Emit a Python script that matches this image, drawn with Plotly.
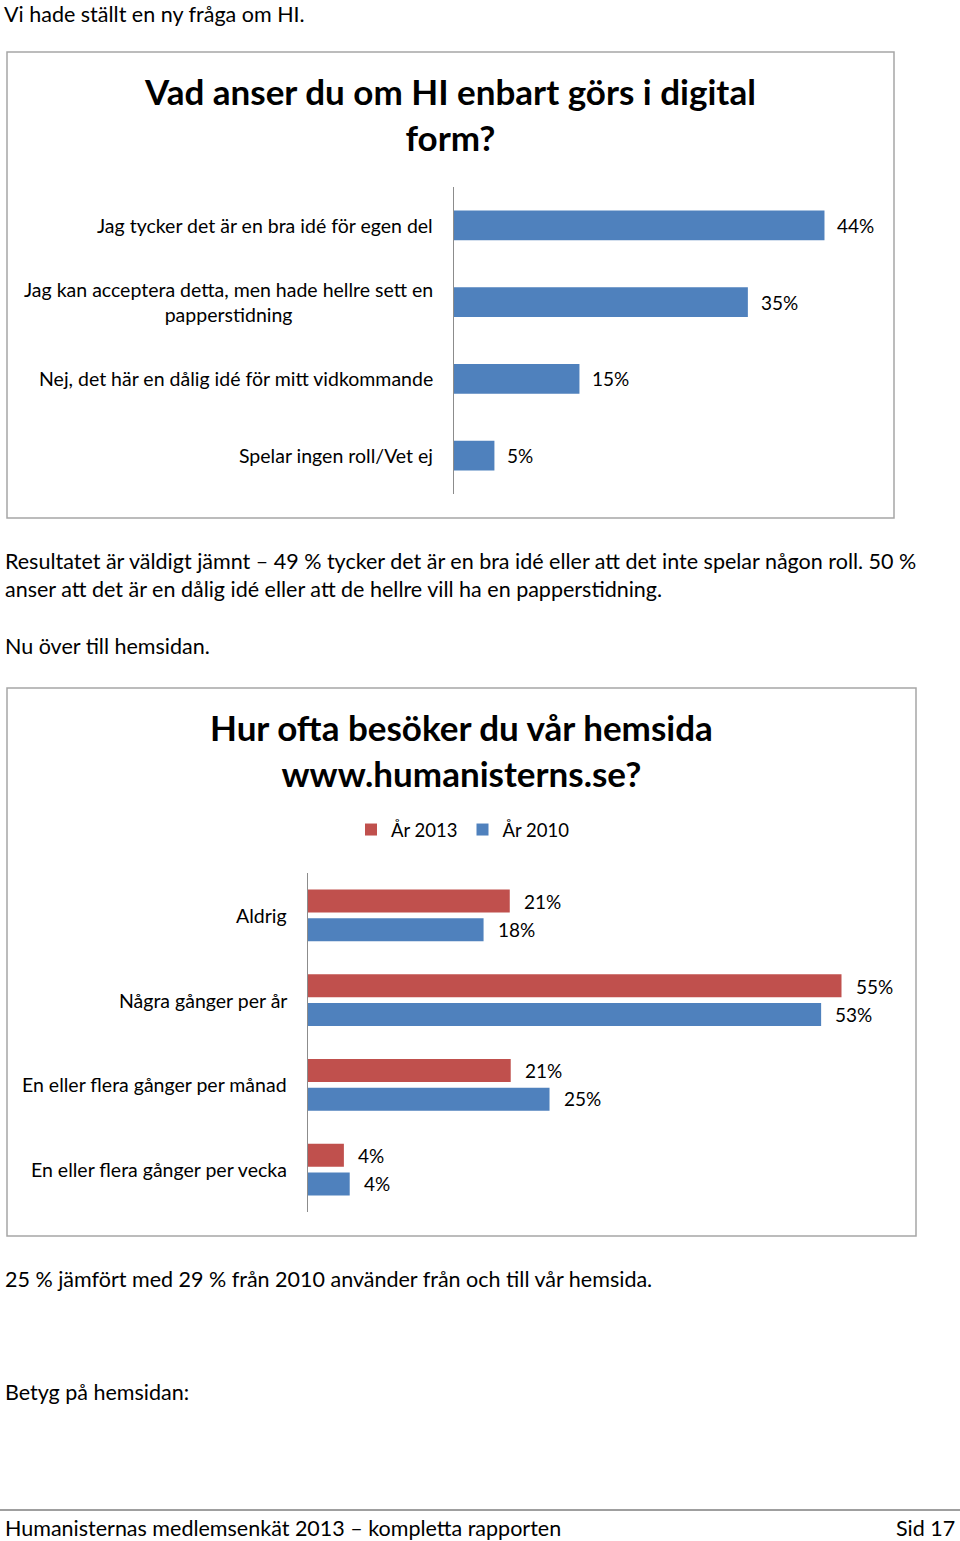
import plotly.graph_objects as go

W, H = 960, 1541
FONT = "Lato"

# ---------- data ----------
q1_categories = [
    "Jag tycker det är en bra idé för egen del",
    "Jag kan acceptera detta, men hade hellre sett en<br>papperstidning",
    "Nej, det här en dålig idé för mitt vidkommande",
    "Spelar ingen roll/Vet ej",
]
q1_values = [44.0, 34.9, 14.9, 4.8]
q1_labels = ["44%", "35%", "15%", "5%"]

q2_categories = [
    "Aldrig",
    "Några gånger per år",
    "En eller flera gånger per månad",
    "En eller flera gånger per vecka",
]
q2_values_2013 = [20.8, 55.0, 20.9, 3.7]
q2_values_2010 = [18.1, 52.9, 24.9, 4.3]
q2_labels_2013 = ["21%", "55%", "21%", "4%"]
q2_labels_2010 = ["18%", "53%", "25%", "4%"]
q2_series_names = ["År 2013", "År 2010"]

BLUE = "#4F81BD"
RED = "#C0504D"


def px_x(x):
    return x / W


def px_y(y):
    return 1 - y / H


fig = go.Figure()

fig.add_trace(go.Bar(
    x=q1_values, y=q1_categories, orientation="h",
    marker=dict(color=BLUE, line=dict(width=0)),
    width=0.39, showlegend=False, hoverinfo="skip",
    xaxis="x", yaxis="y",
))

fig.add_trace(go.Bar(
    x=q2_values_2013, y=q2_categories, orientation="h", name=q2_series_names[0],
    marker=dict(color=RED, line=dict(width=0)), hoverinfo="skip",
    xaxis="x2", yaxis="y2",
))
fig.add_trace(go.Bar(
    x=q2_values_2010, y=q2_categories, orientation="h", name=q2_series_names[1],
    marker=dict(color=BLUE, line=dict(width=0)), hoverinfo="skip",
    xaxis="x2", yaxis="y2",
))

annotations = []
cat_font = dict(family=FONT, size=19.5, color="black")
val_font = dict(family=FONT, size=19, color="black")

# chart 1 category labels and value labels
for c, v, lab in zip(q1_categories, q1_values, q1_labels):
    annotations.append(dict(x=0, y=c, xref="x", yref="y", text=c, showarrow=False,
                            xanchor="right", yanchor="middle", align="center",
                            xshift=-19, font=cat_font))
    annotations.append(dict(x=v, y=c, xref="x", yref="y", text=lab, showarrow=False,
                            xanchor="left", yanchor="middle", xshift=11, font=val_font))

# chart 2 category labels and value labels
for c, v13, v10, l13, l10 in zip(q2_categories, q2_values_2013, q2_values_2010,
                                 q2_labels_2013, q2_labels_2010):
    annotations.append(dict(x=0, y=c, xref="x2", yref="y2", text=c, showarrow=False,
                            xanchor="right", yanchor="middle", xshift=-19, font=cat_font))
    annotations.append(dict(x=v13, y=c, xref="x2", yref="y2", text=l13, showarrow=False,
                            xanchor="left", yanchor="middle", xshift=12, yshift=14, font=val_font))
    annotations.append(dict(x=v10, y=c, xref="x2", yref="y2", text=l10, showarrow=False,
                            xanchor="left", yanchor="middle", xshift=12, yshift=-14, font=val_font))

# chart titles
title_font = dict(family=FONT, size=35, color="black")
annotations.append(dict(x=px_x(450), y=px_y(114), xref="paper", yref="paper",
                        text="<b>Vad anser du om HI enbart görs i digital<br>form?</b>",
                        showarrow=False, xanchor="center", yanchor="middle", align="center",
                        font=title_font))
annotations.append(dict(x=px_x(461), y=px_y(750), xref="paper", yref="paper",
                        text="<b>Hur ofta besöker du vår hemsida<br>www.humanisterns.se?</b>",
                        showarrow=False, xanchor="center", yanchor="middle", align="center",
                        font=title_font))

# body text of the page
body = dict(family=FONT, size=21.5, color="black")
# first line sits at the very top of the page
annotations.append(dict(x=px_x(3), y=1, xref="paper", yref="paper",
                        text="Vi hade ställt en ny fråga om HI.", showarrow=False,
                        xanchor="left", yanchor="top", borderpad=0, font=body))
page_lines = [
    (561, "Resultatet är väldigt jämnt – 49 % tycker det är en bra idé eller att det inte spelar någon roll. 50 %"),
    (589, "anser att det är en dålig idé eller att de hellre vill ha en papperstidning."),
    (646, "Nu över till hemsidan."),
    (1279, "25 % jämfört med 29 % från 2010 använder från och till vår hemsida."),
    (1392, "Betyg på hemsidan:"),
    (1528, "Humanisternas medlemsenkät 2013 – kompletta rapporten"),
]
for yy, t in page_lines:
    annotations.append(dict(x=px_x(3), y=px_y(yy), xref="paper", yref="paper", text=t,
                            showarrow=False, xanchor="left", yanchor="middle", font=body))
annotations.append(dict(x=px_x(957), y=px_y(1528), xref="paper", yref="paper", text="Sid 17",
                        showarrow=False, xanchor="right", yanchor="middle", font=body))

shapes = [
    dict(type="rect", xref="paper", yref="paper", x0=px_x(7), x1=px_x(894),
         y0=px_y(518), y1=px_y(52), line=dict(color="#A6A6A6", width=1.5)),
    dict(type="rect", xref="paper", yref="paper", x0=px_x(7), x1=px_x(916),
         y0=px_y(1236), y1=px_y(688), line=dict(color="#A6A6A6", width=1.5)),
    dict(type="line", xref="paper", yref="paper", x0=0, x1=1,
         y0=px_y(1510), y1=px_y(1510), line=dict(color="#404040", width=1.2)),
]

axis_line = "#8C8C8C"
fig.update_layout(
    width=W, height=H, autosize=False,
    margin=dict(l=0, r=0, t=0, b=0),
    paper_bgcolor="white", plot_bgcolor="white",
    font=dict(family=FONT, size=19, color="black"),
    barmode="group", bargap=0.316, bargroupgap=0.207,
    xaxis=dict(domain=[px_x(454), px_x(875)], range=[0, 50], visible=False,
               showgrid=False, zeroline=False, fixedrange=True),
    yaxis=dict(domain=[px_y(494), px_y(187)], type="category",
               categoryorder="array", categoryarray=q1_categories,
               range=[3.5, -0.5], showline=True, linecolor=axis_line, linewidth=1.2,
               showticklabels=False, ticks="", showgrid=False, zeroline=False, fixedrange=True),
    xaxis2=dict(domain=[px_x(308), px_x(890)], range=[0, 60], visible=False,
                showgrid=False, zeroline=False, anchor="y2", fixedrange=True),
    yaxis2=dict(domain=[px_y(1212), px_y(873)], type="category",
                categoryorder="array", categoryarray=q2_categories,
                range=[3.5, -0.5], showline=True, linecolor=axis_line, linewidth=1.2,
                showticklabels=False, ticks="", showgrid=False, zeroline=False,
                anchor="x2", fixedrange=True),
    legend=dict(orientation="h", x=px_x(463), xanchor="center", y=px_y(830), yanchor="middle",
                font=dict(family=FONT, size=18.5, color="black"), bgcolor="rgba(0,0,0,0)",
                traceorder="normal", itemclick=False, itemdoubleclick=False),
    annotations=annotations,
    shapes=shapes,
)

fig.write_html("out.html", config={"displayModeBar": False},
               post_script="document.body.style.margin='0';document.body.style.padding='0';")
